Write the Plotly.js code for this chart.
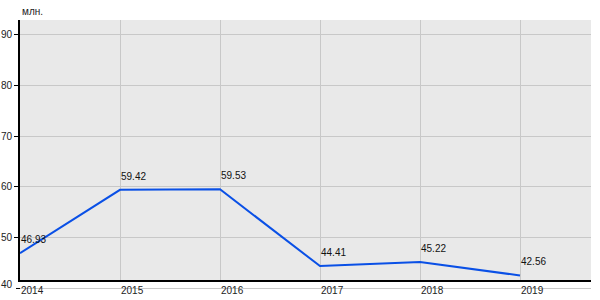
<!DOCTYPE html>
<html>
<head>
<meta charset="utf-8">
<script src="https://cdn.plot.ly/plotly-3.0.1.min.js"></script>
<style>html,body{margin:0;padding:0;background:#fff}#chart{width:600px;height:300px}</style>
</head>
<body>
<div id="chart"></div>
<script>
const years = [2014, 2015, 2016, 2017, 2018, 2019];
const values = [46.93, 59.42, 59.53, 44.41, 45.22, 42.56];
const valueLabels = ['46.93', '59.42', '59.53', '44.41', '45.22', '42.56'];
const yTicks = [50, 60, 70, 80, 90];
const unitLabel = 'млн.';
const baseValue = 40;

const yRange = [41.67, 92.85];
const xRange = [2014, 2019.71];
const basePaper = (baseValue - yRange[0]) / (yRange[1] - yRange[0]);

const font = {family: 'Liberation Sans, Arial, sans-serif', size: 10, color: '#222'};

const trace = {
  x: years, y: values,
  type: 'scatter', mode: 'lines',
  line: {color: '#0a50e6', width: 2},
  hoverinfo: 'skip'
};

const valueAnnotations = years.map((yr, i) => ({
  text: valueLabels[i], x: yr, y: values[i], xref: 'x', yref: 'y',
  xanchor: 'left', yanchor: 'bottom', showarrow: false,
  font: {family: font.family, size: 10, color: '#111'},
  xshift: -1, yshift: 6
}));

const layout = {
  width: 600, height: 300,
  margin: {l: 20, r: 9, t: 20, b: 20},
  paper_bgcolor: '#ffffff',
  plot_bgcolor: '#e9e9e9',
  showlegend: false,
  font: font,
  xaxis: {
    range: xRange, tickvals: years, ticktext: years.map(String),
    showgrid: true, gridcolor: '#c8c8c8', gridwidth: 1,
    showline: true, linecolor: '#000', linewidth: 2,
    ticks: '', ticklabelposition: 'outside right',
    ticklabelstandoff: 0,
    zeroline: false, fixedrange: true
  },
  yaxis: {
    range: yRange, tickvals: yTicks,
    showgrid: true, gridcolor: '#c8c8c8', gridwidth: 1,
    showline: true, linecolor: '#000', linewidth: 2,
    ticks: 'outside', ticklen: 4, tickcolor: '#000', tickwidth: 1,
    zeroline: false, fixedrange: true
  },
  shapes: [
    {type: 'line', xref: 'paper', yref: 'paper', x0: 0, x1: 1, y0: basePaper, y1: basePaper,
     line: {color: '#c8c8c8', width: 1}, layer: 'below'},
    {type: 'line', xref: 'paper', yref: 'paper', x0: -4/571, x1: 0, y0: basePaper, y1: basePaper,
     line: {color: '#000', width: 1}}
  ],
  annotations: [
    {text: unitLabel, xref: 'paper', yref: 'paper', x: 0, y: 1, xanchor: 'left', yanchor: 'bottom',
     showarrow: false, font: font, yshift: 1},
    {text: String(baseValue), xref: 'paper', yref: 'paper', x: 0, y: basePaper, xanchor: 'right', yanchor: 'middle',
     showarrow: false, font: font, xshift: -5, yshift: 4}
  ].concat(valueAnnotations)
};

Plotly.newPlot('chart', [trace], layout, {displayModeBar: false, staticPlot: true});
</script>
</body>
</html>
